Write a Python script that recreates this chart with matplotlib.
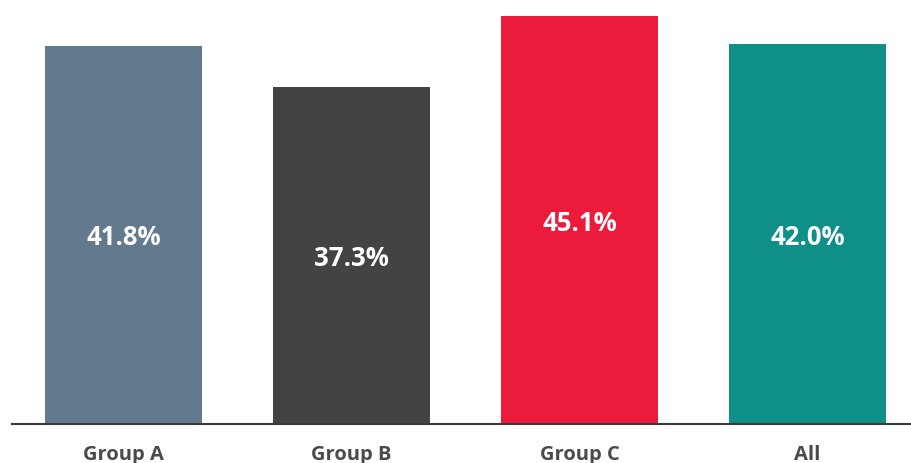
import matplotlib.pyplot as plt

groups = ['Group A', 'Group B', 'Group C', 'All']
values = [41.8, 37.3, 45.1, 42.0]
colors = ['#63798d', '#434343', '#ed1b3b', '#0e8f88']

plt.rcParams['font.family'] = ['Open Sans', 'DejaVu Sans']

fig = plt.figure(figsize=(9.12, 4.63), dpi=100)
ax = fig.add_axes([12 / 912, 39 / 463, 900 / 912, 408 / 463])

x = range(len(groups))
bars = ax.bar(x, values, width=0.685, color=colors)

for xi, v in zip(x, values):
    ax.text(xi, v / 2, f'{v:.1f}%', ha='center', va='center_baseline',
            color='white', fontsize=18.5, fontweight='bold')

ax.set_xlim(-0.489, 3.458)
ax.set_ylim(0, 45.1)
ax.set_xticks(list(x))
ax.set_xticklabels(groups, fontsize=14.5, fontweight='bold', color='#4a4a4a')
ax.tick_params(axis='x', length=0, pad=15)
ax.set_yticks([])
for side in ['top', 'right', 'left']:
    ax.spines[side].set_visible(False)
ax.spines['bottom'].set_color('#3a3a3a')
ax.spines['bottom'].set_linewidth(1.5)

plt.savefig('out.png', dpi=100)
